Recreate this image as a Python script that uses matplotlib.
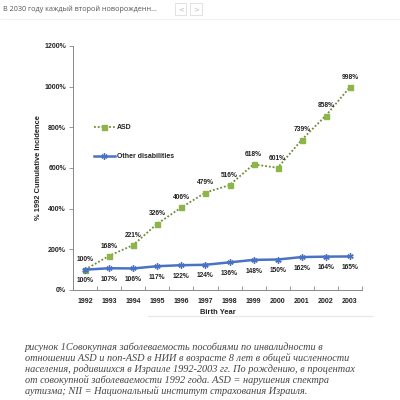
import matplotlib
matplotlib.use("Agg")
import matplotlib.pyplot as plt

years = [1992, 1993, 1994, 1995, 1996, 1997, 1998, 1999, 2000, 2001, 2002, 2003]
asd = [100, 168, 221, 326, 406, 479, 516, 618, 601, 739, 858, 998]
other = [100, 107, 106, 117, 122, 124, 136, 148, 150, 162, 164, 165]
y_ticks = [0, 200, 400, 600, 800, 1000, 1200]

header = "В 2030 году каждый второй новорожденн..."
caption = ("рисунок 1Совокупная заболеваемость пособиями по инвалидности в\n"
           "отношении ASD и non-ASD в НИИ в возрасте 8 лет в общей численности\n"
           "населения, родившихся в Израиле 1992-2003 гг. По рождению, в процентах\n"
           "от совокупной заболеваемости 1992 года. ASD = нарушения спектра\n"
           "аутизма; NII = Национальный институт страхования Израиля.")

green = "#8db54a"
dots = "#6f8a3a"
blue = "#4a72c4"
lbl = "#222222"

fig = plt.figure(figsize=(4, 4), dpi=100)
fig.patch.set_facecolor("white")

# page header strip
fig.text(0.008, 0.978, header, fontsize=5.2, color="#555555", va="center", family="Open Sans")
for bx in (0.438, 0.476):
    fig.patches.append(plt.Rectangle((bx, 0.962), 0.028, 0.03, transform=fig.transFigure,
                                     fill=False, ec="#dddddd", lw=0.6))
fig.text(0.452, 0.977, "<", fontsize=5, color="#bbbbbb", ha="center", va="center")
fig.text(0.490, 0.977, ">", fontsize=5, color="#bbbbbb", ha="center", va="center")
fig.add_artist(plt.Line2D([0, 1], [0.952, 0.952], transform=fig.transFigure, color="#eeeeee", lw=0.6))
fig.add_artist(plt.Line2D([0.37, 0.93], [0.21, 0.21], transform=fig.transFigure, color="#e6e6e6", lw=0.8))

ax = fig.add_axes([0.1825, 0.275, 0.7225, 0.61])
x = list(range(len(years)))

ax.plot(x, asd, color=dots, ls=(0, (1, 1.1)), lw=1.3, marker="s", ms=3.6, mfc=green, mec=green,
        zorder=3, label="ASD")
ax.plot(x, other, color=blue, lw=1.8, marker=(6, 2, 0), ms=4.5, mec=blue, zorder=4,
        label="Other disabilities")

for i in x:
    ax.annotate(f"{asd[i]}%", (i, asd[i]), xytext=(0, 4.5), textcoords="offset points",
                ha="center", va="bottom", fontsize=4.8, fontweight="bold", color=lbl,
                family="Liberation Sans")
    ax.annotate(f"{other[i]}%", (i, other[i]), xytext=(0, -5.5), textcoords="offset points",
                ha="center", va="top", fontsize=4.8, fontweight="bold", color=lbl,
                family="Liberation Sans")

ax.set_xlim(-0.5, len(years) - 0.5)
ax.set_ylim(0, 1200)
ax.set_yticks(y_ticks)
ax.set_yticklabels([f"{v}%" for v in y_ticks])
ax.set_xticks([i - 0.5 for i in range(len(years) + 1)], minor=False)
ax.set_xticklabels([])
ax.set_xticks(x, minor=True)
ax.set_xticklabels([str(y) for y in years], minor=True)
ax.tick_params(axis="x", which="major", length=3, width=0.6, color="#888888", direction="in")
ax.tick_params(axis="x", which="minor", length=0, pad=6)
ax.tick_params(axis="y", length=3, width=0.6, color="#888888", direction="out", pad=2)
for t in ax.get_yticklabels() + ax.get_xticklabels(minor=True):
    t.set_fontsize(5.0)
    t.set_fontweight("bold")
    t.set_color(lbl)
    t.set_family("Liberation Sans")

for s in ("top", "right"):
    ax.spines[s].set_visible(False)
for s in ("left", "bottom"):
    ax.spines[s].set_color("#888888")
    ax.spines[s].set_linewidth(0.7)

ax.set_xlabel("Birth Year", fontsize=5.4, fontweight="bold", color=lbl, family="Liberation Sans",
              labelpad=3)
ax.set_ylabel("% 1992 Cumulative Incidence", fontsize=5.4, fontweight="bold", color=lbl,
              family="Liberation Sans", labelpad=2)

leg = ax.legend(loc="upper left", bbox_to_anchor=(0.05, 0.705), frameon=False, fontsize=5.0,
                handlelength=3.0, labelspacing=3.2, handletextpad=0.4)
for t in leg.get_texts():
    t.set_fontweight("bold")
    t.set_color(lbl)
    t.set_family("Liberation Sans")

fig.text(0.062, 0.077, caption, fontsize=7.4, style="italic", color="#444444",
         family="Liberation Serif", va="center", linespacing=1.12)

fig.savefig("out.png", dpi=100)
